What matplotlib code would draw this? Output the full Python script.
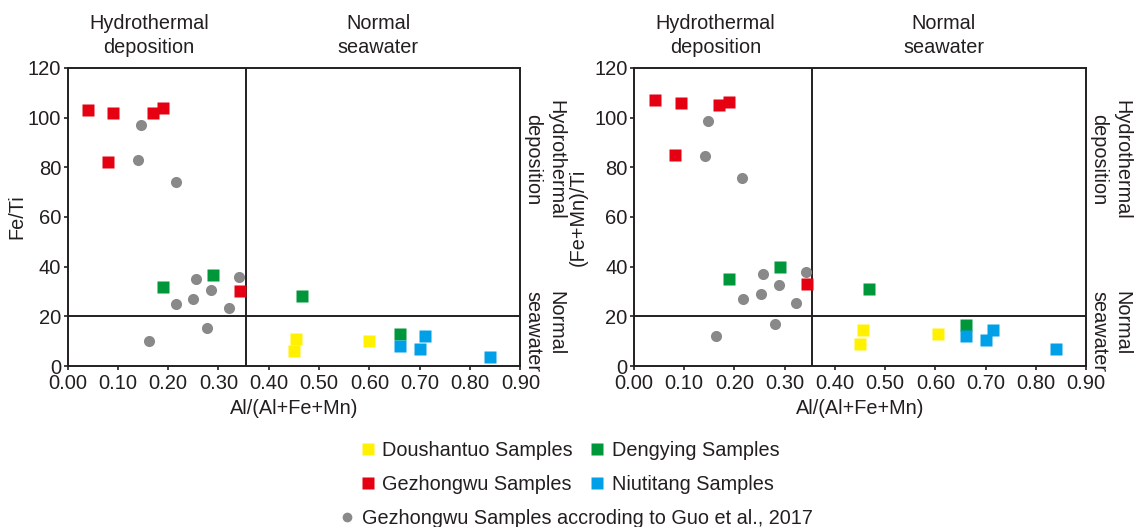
import numpy as np
import matplotlib
matplotlib.use('Agg')
import matplotlib.pyplot as plt
from matplotlib.lines import Line2D

plt.rcParams['font.family'] = ['Liberation Sans', 'DejaVu Sans']

# data: x = Al/(Al+Fe+Mn)
dsh_x1 = [0.455, 0.45, 0.60]
dsh_y1 = [11, 6, 10]
dy_x1 = [0.19, 0.29, 0.465, 0.66]
dy_y1 = [32, 36.5, 28, 13]
gz_x1 = [0.04, 0.09, 0.17, 0.19, 0.08, 0.343]
gz_y1 = [103, 102, 102, 104, 82, 30]
nt_x1 = [0.66, 0.70, 0.71, 0.84]
nt_y1 = [8, 7, 12, 3.5]
guo_x1 = [0.145, 0.14, 0.215, 0.255, 0.34, 0.285, 0.25, 0.215, 0.32, 0.278, 0.162]
guo_y1 = [97, 83, 74, 35, 36, 30.5, 27, 25, 23.5, 15.5, 10]

dsh_x2 = [0.455, 0.45, 0.605]
dsh_y2 = [14.5, 9, 13]
dy_x2 = [0.19, 0.29, 0.467, 0.66]
dy_y2 = [35, 40, 31, 16.5]
gz_x2 = [0.042, 0.093, 0.17, 0.19, 0.082, 0.345]
gz_y2 = [107, 106, 105, 106.5, 85, 33]
nt_x2 = [0.66, 0.70, 0.715, 0.84]
nt_y2 = [12, 10.5, 14.5, 7]
guo_x2 = [0.147, 0.142, 0.216, 0.257, 0.343, 0.288, 0.252, 0.217, 0.322, 0.281, 0.164]
guo_y2 = [98.5, 84.5, 75.5, 37, 38, 32.5, 29, 27, 25.5, 17, 12]

x_cut = 0.355
y_cut = 20

c_dsh = '#fff100'
c_dy = '#00973a'
c_gz = '#e50012'
c_nt = '#00a0e9'
c_guo = '#898989'
ink = '#231f20'
fs = 14.3

fig = plt.figure(figsize=(11.39, 5.27), dpi=100)
ax1 = fig.add_axes([0.0593, 0.3055, 0.3976, 0.5655])
ax2 = fig.add_axes([0.5566, 0.3055, 0.3970, 0.5655])

panels = [
    (ax1, 'Fe/Ti', -0.09, guo_x1, guo_y1, dsh_x1, dsh_y1, dy_x1, dy_y1, gz_x1, gz_y1, nt_x1, nt_y1),
    (ax2, '(Fe+Mn)/Ti', -0.102, guo_x2, guo_y2, dsh_x2, dsh_y2, dy_x2, dy_y2, gz_x2, gz_y2, nt_x2, nt_y2),
]

for ax, ylab, lx, gx, gy, ax_, ay_, bx, by, cx, cy, dx, dy in panels:
    ax.plot(gx, gy, 'o', color=c_guo, ms=8, mec='none', zorder=3)
    ax.plot(ax_, ay_, 's', color=c_dsh, ms=8, mec='none', zorder=3)
    ax.plot(bx, by, 's', color=c_dy, ms=8, mec='none', zorder=3)
    ax.plot(cx, cy, 's', color=c_gz, ms=8, mec='none', zorder=3)
    ax.plot(dx, dy, 's', color=c_nt, ms=8, mec='none', zorder=3)

    ax.axvline(x_cut, color=ink, lw=1.4, zorder=2)
    ax.axhline(y_cut, color=ink, lw=1.4, zorder=2)

    ax.set_xlim(0, 0.9)
    ax.set_ylim(0, 120)
    ax.set_xticks(np.arange(0, 0.91, 0.1))
    ax.set_xticklabels(['%.2f' % v for v in np.arange(0, 0.91, 0.1)])
    ax.set_yticks(range(0, 121, 20))
    ax.tick_params(direction='out', length=3, width=1.2, labelsize=14.5,
                   colors=ink, pad=1.5)
    ax.tick_params(axis='x', pad=2.8)
    for s in ax.spines.values():
        s.set_linewidth(1.4)
        s.set_color(ink)

    ax.set_xlabel('Al/(Al+Fe+Mn)', fontsize=fs, color=ink, labelpad=4)
    ax.set_ylabel(ylab, fontsize=fs, color=ink)
    ax.yaxis.set_label_coords(lx, 0.5)

    ax.text(0.162, 124.5, 'Hydrothermal\ndeposition', ha='center', va='bottom',
            fontsize=fs, color=ink, linespacing=1.3)
    ax.text(0.617, 124.5, 'Normal\nseawater', ha='center', va='bottom',
            fontsize=fs, color=ink, linespacing=1.3)
    ax.text(0.948, 83, 'Hydrothermal\ndeposition', ha='center', va='center',
            rotation=-90, fontsize=fs, color=ink, linespacing=1.3, clip_on=False)
    ax.text(0.948, 14, 'Normal\nseawater', ha='center', va='center',
            rotation=-90, fontsize=fs, color=ink, linespacing=1.3,
            multialignment='left', clip_on=False)

def sq(c):
    return Line2D([], [], marker='s', ls='none', color=c, mec='none', ms=8)

handles = [sq(c_dsh), sq(c_gz), sq(c_dy), sq(c_nt)]
labels = ['Doushantuo Samples', 'Gezhongwu Samples', 'Dengying Samples', 'Niutitang Samples']
fig.legend(handles, labels, ncol=2, loc='center left', bbox_to_anchor=(0.307, 0.1124),
           frameon=False, fontsize=fs, handlelength=0.8, handletextpad=0.35,
           columnspacing=0.8, labelspacing=0.75, borderpad=0, labelcolor=ink)
fig.legend([Line2D([], [], marker='o', ls='none', color=c_guo, mec='none', ms=7)],
           ['Gezhongwu Samples accroding to Guo et al., 2017'],
           loc='center left', bbox_to_anchor=(0.2888, 0.017), frameon=False,
           fontsize=fs, handlelength=0.8, handletextpad=0.35, borderpad=0,
           labelcolor=ink)

fig.savefig('out.png', dpi=100)
